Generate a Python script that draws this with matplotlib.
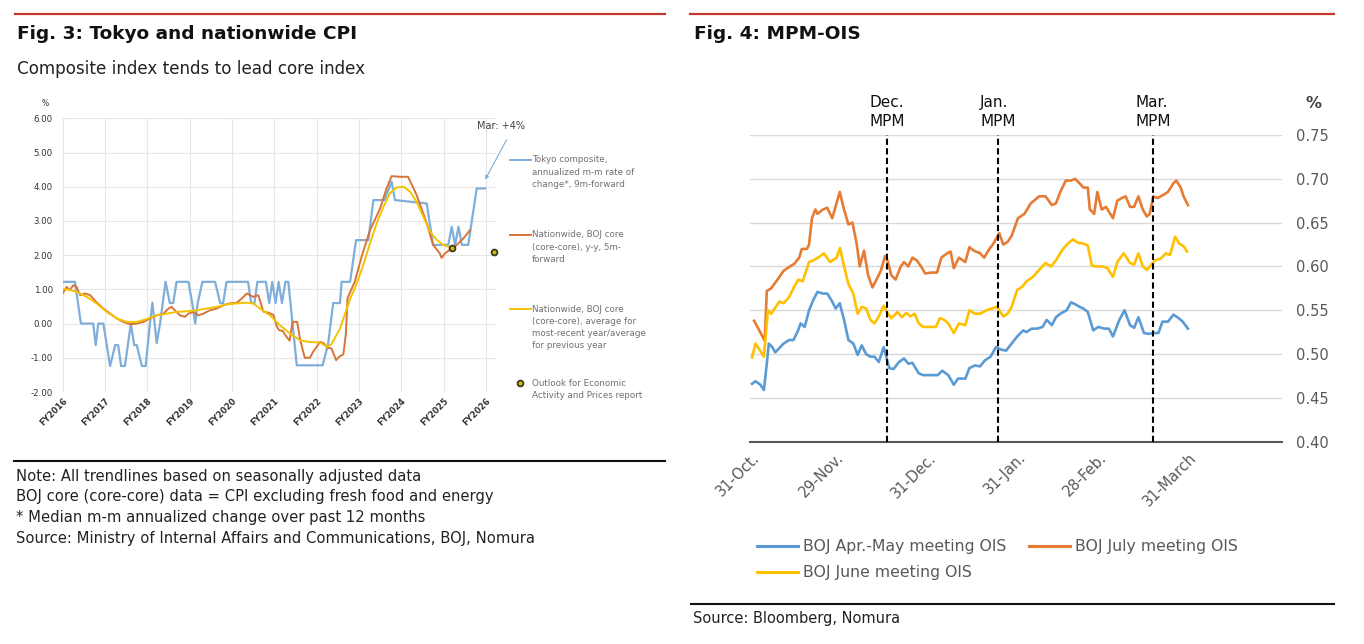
import numpy as np
import matplotlib
matplotlib.use("Agg")
import matplotlib.pyplot as plt
from matplotlib.lines import Line2D

# ---------------- Fig. 3 data (x = years since start of FY2016) ----------------
fy_labels = ["FY2016", "FY2017", "FY2018", "FY2019", "FY2020", "FY2021",
             "FY2022", "FY2023", "FY2024", "FY2025", "FY2026"]
cpi_ticks = [-2, -1, 0, 1, 2, 3, 4, 5, 6]

tokyo_composite = [
    (0, 1.22), (0.29, 1.22), (0.43, 0.0), (0.72, 0.0), (0.78, -0.63), (0.84, 0.0),
    (0.96, 0.0), (1.12, -1.24), (1.24, -0.63), (1.31, -0.63), (1.38, -1.24),
    (1.47, -1.24), (1.61, 0.0), (1.69, -0.63), (1.75, -0.63), (1.87, -1.24),
    (1.96, -1.24), (2.06, 0.0), (2.12, 0.61), (2.22, -0.57), (2.30, 0.0),
    (2.43, 1.22), (2.53, 0.6), (2.61, 0.6), (2.69, 1.22), (2.97, 1.22), (3.06, 0.6),
    (3.13, 0.0), (3.19, 0.6), (3.30, 1.22), (3.60, 1.22), (3.72, 0.6), (3.79, 0.6),
    (3.87, 1.22), (4.38, 1.22), (4.45, 0.6), (4.53, 0.6), (4.60, 1.22), (4.80, 1.22),
    (4.88, 0.6), (4.95, 1.22), (5.03, 0.6), (5.10, 1.22), (5.18, 0.6), (5.26, 1.22),
    (5.33, 1.22), (5.53, -1.22), (6.14, -1.22), (6.27, -0.6), (6.39, 0.6),
    (6.55, 0.6), (6.59, 1.22), (6.79, 1.22), (6.93, 2.44), (7.22, 2.44),
    (7.34, 3.61), (7.60, 3.61), (7.77, 4.15), (7.85, 3.61), (8.60, 3.51),
    (8.75, 2.30), (9.11, 2.30), (9.19, 2.83), (9.27, 2.30), (9.35, 2.83),
    (9.43, 2.30), (9.58, 2.30), (9.78, 3.95), (9.98, 3.95),
]

nationwide_yy = [
    (0, 0.88), (0.09, 1.07), (0.17, 0.98), (0.25, 1.12), (0.33, 1.07), (0.41, 0.83),
    (0.53, 0.88), (0.65, 0.83), (0.80, 0.62), (0.96, 0.44), (1.12, 0.29),
    (1.28, 0.15), (1.43, 0.05), (1.59, -0.02), (1.75, 0.0), (1.91, 0.05),
    (2.06, 0.15), (2.22, 0.24), (2.38, 0.29), (2.50, 0.44), (2.57, 0.49),
    (2.65, 0.39), (2.77, 0.24), (2.89, 0.20), (2.97, 0.29), (3.09, 0.34),
    (3.20, 0.24), (3.32, 0.29), (3.48, 0.39), (3.64, 0.44), (3.80, 0.54),
    (3.95, 0.59), (4.11, 0.61), (4.23, 0.73), (4.35, 0.88), (4.50, 0.78),
    (4.62, 0.83), (4.74, 0.35), (4.86, 0.32), (4.98, 0.25), (5.06, -0.09),
    (5.11, -0.19), (5.20, -0.22), (5.29, -0.39), (5.36, -0.50), (5.43, 0.05),
    (5.54, 0.05), (5.61, -0.48), (5.72, -1.0), (5.84, -1.0), (5.92, -0.82),
    (6.00, -0.68), (6.08, -0.53), (6.17, -0.58), (6.25, -0.70), (6.35, -0.73),
    (6.46, -1.07), (6.53, -0.97), (6.63, -0.90), (6.69, -0.30), (6.73, 0.75),
    (6.80, 0.95), (6.90, 1.22), (7.06, 1.95), (7.26, 2.73), (7.50, 3.37),
    (7.65, 3.95), (7.77, 4.31), (7.97, 4.29), (8.16, 4.29), (8.36, 3.76),
    (8.60, 2.93), (8.75, 2.30), (8.91, 2.05), (8.95, 1.92), (9.03, 2.05),
    (9.15, 2.16), (9.31, 2.30), (9.46, 2.48), (9.62, 2.73),
]

nationwide_avg = [
    (0, 1.02), (0.17, 0.98), (0.33, 0.93), (0.57, 0.78), (0.80, 0.59), (1.04, 0.34),
    (1.28, 0.15), (1.51, 0.05), (1.75, 0.05), (1.98, 0.13), (2.22, 0.24),
    (2.46, 0.29), (2.69, 0.34), (2.93, 0.36), (3.17, 0.39), (3.40, 0.44),
    (3.64, 0.49), (3.87, 0.56), (4.11, 0.59), (4.35, 0.61), (4.50, 0.59),
    (4.66, 0.44), (4.90, 0.24), (5.13, -0.05), (5.37, -0.29), (5.61, -0.49),
    (5.84, -0.54), (6.08, -0.55), (6.24, -0.68), (6.35, -0.60), (6.55, -0.15),
    (6.79, 0.72), (6.95, 1.18), (7.10, 1.71), (7.26, 2.35), (7.42, 2.94),
    (7.58, 3.42), (7.73, 3.81), (7.89, 3.98), (8.05, 4.00), (8.21, 3.85),
    (8.36, 3.56), (8.52, 3.12), (8.68, 2.68), (8.84, 2.44), (8.99, 2.30),
    (9.11, 2.25), (9.19, 2.22),
]

outlook_report = [(9.20, 2.20), (10.19, 2.10)]
mar_point = (9.95, 4.14)

# ---------------- Fig. 4 data (x = days after 31 Oct) ----------------
date_ticks = [0, 29, 61, 92, 120, 151]
date_labels = ["31-Oct.", "29-Nov.", "31-Dec.", "31-Jan.", "28-Feb.", "31-March"]
ois_ticks = [0.40, 0.45, 0.50, 0.55, 0.60, 0.65, 0.70, 0.75]
mpm_days = [46.7, 84.9, 138.6]
mpm_labels = ["Dec.\nMPM", "Jan.\nMPM", "Mar.\nMPM"]

apr_may_ois = [
    (0, .466), (1.2, .469), (2.9, .465), (4.1, .459), (5.1, .489), (5.8, .512),
    (7.0, .508), (8.0, .502), (9.5, .507), (10.9, .512), (12.8, .516), (14.3, .516),
    (15.8, .526), (16.8, .535), (18.2, .531), (19.7, .550), (21.2, .562), (22.6, .571),
    (24.5, .569), (26.0, .569), (27.7, .560), (28.9, .552), (30.3, .558), (31.8, .539),
    (33.3, .516), (35.0, .512), (36.5, .499), (37.9, .510), (39.4, .500), (40.9, .497),
    (42.3, .497), (43.8, .491), (45.5, .508), (47.4, .484), (48.9, .483), (50.8, .491),
    (52.5, .495), (54.0, .489), (55.4, .490), (57.6, .478), (59.1, .476), (61.3, .476),
    (64.2, .476), (65.7, .481), (67.8, .476), (69.7, .465), (71.2, .472), (73.7, .472),
    (75.1, .484), (77.0, .487), (78.8, .486), (80.5, .493), (82.4, .497), (84.3, .508),
    (86.1, .505), (87.8, .504), (89.7, .512), (91.6, .520), (93.7, .527), (94.8, .525),
    (96.6, .529), (98.5, .529), (100.4, .531), (101.8, .539), (103.6, .533),
    (105.0, .542), (106.5, .546), (108.7, .550), (110.2, .559), (111.6, .557),
    (113.1, .554), (114.5, .552), (116.0, .548), (117.9, .527), (119.6, .531),
    (121.8, .529), (123.3, .529), (124.7, .520), (126.9, .539), (128.7, .550),
    (130.6, .533), (132.0, .530), (133.5, .542), (135.4, .524), (137.1, .523),
    (138.6, .524), (140.4, .524), (141.8, .537), (143.7, .537), (145.6, .545),
    (147.4, .541), (148.8, .537), (150.6, .529),
]

june_ois = [
    (0, .496), (1.2, .512), (2.6, .505), (4.1, .497), (5.5, .550), (6.6, .546),
    (8.0, .553), (9.5, .560), (10.9, .558), (12.8, .565), (14.6, .577), (16.0, .585),
    (17.5, .583), (19.7, .605), (21.2, .607), (23.3, .611), (24.8, .615), (27.0, .605),
    (29.2, .610), (30.4, .621), (31.8, .600), (33.3, .580), (35.0, .569), (36.5, .546),
    (37.9, .554), (39.4, .552), (40.9, .539), (42.3, .535), (43.8, .543), (45.5, .555),
    (47.0, .546), (48.1, .541), (50.3, .548), (51.8, .542), (53.3, .547), (54.7, .543),
    (56.2, .546), (57.6, .535), (59.1, .531), (61.3, .531), (63.5, .531), (64.9, .541),
    (66.4, .539), (67.8, .535), (69.7, .524), (71.5, .535), (73.7, .533), (75.1, .550),
    (77.0, .546), (78.8, .546), (81.0, .550), (82.9, .552), (84.6, .554), (86.8, .543),
    (88.3, .546), (89.7, .554), (91.6, .573), (93.4, .577), (94.8, .583), (97.0, .588),
    (99.2, .596), (101.4, .604), (103.3, .600), (105.0, .607), (107.2, .619),
    (109.1, .626), (110.9, .631), (112.6, .627), (114.5, .626), (116.0, .624),
    (117.4, .601), (118.9, .600), (121.1, .600), (122.8, .598), (124.7, .588),
    (126.2, .605), (128.4, .615), (130.6, .604), (132.0, .602), (133.5, .615),
    (135.0, .600), (136.4, .596), (137.9, .602), (139.3, .607), (141.2, .609),
    (143.0, .615), (144.4, .613), (146.2, .634), (147.6, .626), (149.1, .623),
    (150.3, .617),
]

july_ois = [
    (0.7, .538), (2.2, .529), (4.4, .515), (5.1, .572), (6.6, .575), (8.8, .585),
    (10.9, .595), (13.1, .600), (14.6, .603), (16.3, .610), (17.2, .620), (19.0, .620),
    (19.7, .625), (20.7, .655), (21.9, .665), (22.6, .660), (24.5, .665), (26.0, .667),
    (27.7, .655), (30.3, .685), (31.8, .665), (33.3, .648), (34.7, .650), (36.2, .625),
    (37.2, .600), (38.7, .618), (40.1, .590), (41.6, .576), (43.0, .585), (44.5, .595),
    (46.0, .612), (47.0, .605), (48.1, .590), (49.6, .585), (51.4, .600), (52.5, .605),
    (54.0, .600), (55.4, .610), (56.9, .607), (58.4, .600), (59.8, .592), (62.0, .593),
    (63.9, .593), (65.4, .610), (67.4, .615), (68.6, .617), (69.7, .598), (71.5, .610),
    (73.7, .605), (75.1, .622), (76.6, .618), (78.8, .615), (80.2, .610), (82.0, .620),
    (83.2, .625), (85.4, .638), (86.8, .625), (88.3, .628), (89.7, .635), (91.9, .655),
    (94.1, .660), (96.3, .672), (99.2, .680), (101.4, .680), (103.6, .670),
    (105.0, .672), (106.5, .685), (108.4, .698), (110.2, .698), (111.6, .700),
    (113.1, .695), (114.5, .690), (116.0, .690), (116.7, .665), (118.2, .660),
    (119.3, .685), (120.8, .665), (122.3, .668), (124.7, .655), (126.2, .675),
    (127.7, .678), (129.1, .680), (130.6, .668), (132.0, .668), (133.5, .680),
    (135.0, .665), (136.4, .657), (137.4, .660), (138.6, .680), (140.1, .678),
    (142.3, .682), (143.7, .685), (145.6, .695), (146.6, .698), (148.1, .690),
    (149.1, .680), (150.6, .670),
]

W, H = 1364, 644


def fx(px):
    return px / W


def fy(py):
    return 1 - py / H


fig = plt.figure(figsize=(W / 100, H / 100), dpi=100)
fig.patch.set_facecolor("white")

TXT = "#222222"
GREY = "#595959"

# header / footer rules
fig.add_artist(Line2D([fx(15), fx(665)], [fy(14), fy(14)], color="#c0392b", lw=1.6))
fig.add_artist(Line2D([fx(690), fx(1334)], [fy(14), fy(14)], color="#c0392b", lw=1.6))
fig.add_artist(Line2D([fx(14), fx(665)], [fy(460.5), fy(460.5)], color="#111111", lw=1.5))
fig.add_artist(Line2D([fx(691), fx(1334)], [fy(604), fy(604)], color="#111111", lw=1.5))

fig.text(fx(17), fy(34), "Fig. 3: Tokyo and nationwide CPI", fontsize=13.3,
         fontweight="bold", color="#111111", va="center")
fig.text(fx(17), fy(69), "Composite index tends to lead core index", fontsize=12.1,
         color=TXT, va="center")
fig.text(fx(694), fy(34), "Fig. 4: MPM-OIS", fontsize=13.3, fontweight="bold",
         color="#111111", va="center")

notes = ["Note: All trendlines based on seasonally adjusted data",
         "BOJ core (core-core) data = CPI excluding fresh food and energy",
         "* Median m-m annualized change over past 12 months",
         "Source: Ministry of Internal Affairs and Communications, BOJ, Nomura"]
for i, line in enumerate(notes):
    fig.text(fx(16), fy(476 + i * 20.7), line, fontsize=10.6, color=TXT, va="center")
fig.text(fx(693), fy(619), "Source: Bloomberg, Nomura", fontsize=10.5, color=TXT,
         va="center")

# ---------------- left chart ----------------
ax1 = fig.add_axes([fx(62.7), fy(392), (497 - 62.7) / W, (392 - 118.3) / H])
ax1.set_xlim(0, 10.26)
ax1.set_ylim(-2, 6)
ax1.set_xticks(range(len(fy_labels)))
ax1.set_xticklabels(fy_labels, rotation=45, ha="right", va="top",
                    rotation_mode="anchor", fontsize=6, fontweight="bold", color="#333333")
ax1.set_yticks(cpi_ticks)
ax1.set_yticklabels([f"{v:.2f}" for v in cpi_ticks], fontsize=6.2, color="#333333")
ax1.tick_params(length=0)
ax1.tick_params(axis="y", pad=7)
ax1.tick_params(axis="x", pad=3)
ax1.grid(True, color="#e6e6e6", lw=0.8)
ax1.set_axisbelow(True)
for s in ax1.spines.values():
    s.set_visible(False)

tx, ty = np.array(tokyo_composite).T
ox, oy = np.array(nationwide_yy).T
yx, yy = np.array(nationwide_avg).T
ax1.plot(tx, ty, color="#7eaed9", lw=1.6, solid_joinstyle="round")
ax1.plot(ox, oy, color="#d8743a", lw=1.4, solid_joinstyle="round")
ax1.plot(yx, yy, color="#f4c300", lw=1.4, solid_joinstyle="round")
mx, my = np.array(outlook_report).T
ax1.plot(mx, my, "o", ms=4.2, mfc="#d6b900", mec="#3a3a1e", mew=1.3, clip_on=False)

ax1.annotate("", xy=mar_point, xytext=(10.52, 5.45), textcoords="data",
             arrowprops=dict(arrowstyle="-|>", color="#7eaed9", lw=0.8,
                             mutation_scale=5), annotation_clip=False)
fig.text(fx(477), fy(126), "Mar: +4%", fontsize=7, color="#404040", va="center")
fig.text(fx(45), fy(104), "%", fontsize=5.5, color="#333333", ha="center", va="center")

# left legend
leg1 = [("#7eaed9", "line", 160, ["Tokyo composite,", "annualized m-m rate of",
                                   "change*, 9m-forward"]),
        ("#d8743a", "line", 235, ["Nationwide, BOJ core", "(core-core), y-y, 5m-",
                                   "forward"]),
        ("#f4c300", "line", 309, ["Nationwide, BOJ core", "(core-core), average for",
                                   "most-recent year/average", "for previous year"]),
        ("#d6b900", "marker", 383, ["Outlook for Economic",
                                     "Activity and Prices report"])]
for color, kind, y0, lines in leg1:
    if kind == "line":
        fig.add_artist(Line2D([fx(510), fx(531)], [fy(y0), fy(y0)], color=color, lw=1.4))
    else:
        fig.add_artist(Line2D([fx(519.5)], [fy(y0)], marker="o", ms=4.2, mfc=color,
                              mec="#3a3a1e", mew=1.3, lw=0))
    for i, line in enumerate(lines):
        fig.text(fx(532), fy(y0 + i * 12.2), line, fontsize=6.3, color="#707070",
                 va="center")

# ---------------- right chart ----------------
ax2 = fig.add_axes([fx(750), fy(441.7), 532 / W, 306.7 / H])
ax2.set_xlim(-0.7, 183.1)
ax2.set_ylim(0.40, 0.75)
ax2.set_yticks(ois_ticks)
ax2.set_yticklabels([f"{v:.2f}" for v in ois_ticks], fontsize=10.5, color=GREY)
ax2.yaxis.tick_right()
ax2.set_xticks(date_ticks)
ax2.set_xticklabels(date_labels, rotation=45, ha="right", va="top",
                    rotation_mode="anchor", fontsize=10.5, color=GREY)
ax2.tick_params(length=0)
ax2.tick_params(axis="y", pad=10)
ax2.tick_params(axis="x", pad=6)
ax2.grid(True, axis="y", color="#d9d9d9", lw=1)
ax2.set_axisbelow(True)
for side in ["top", "left", "right"]:
    ax2.spines[side].set_visible(False)
ax2.spines["bottom"].set_color("#595959")
ax2.spines["bottom"].set_linewidth(1.5)

for d, lab in zip(mpm_days, mpm_labels):
    ax2.plot([d, d], [0.40, 0.75], color="black", lw=1.5, dashes=(3, 1.6), zorder=4)
    ax2.text(d, 0.7765, lab, ha="center", va="center", multialignment="left",
             fontsize=11, color="#111111", linespacing=1.3, clip_on=False)

ax_, ay_ = np.array(apr_may_ois).T
jx, jy = np.array(june_ois).T
lx, ly = np.array(july_ois).T
ax2.plot(ax_, ay_, color="#5b9bd5", lw=1.9, zorder=3)
ax2.plot(lx, ly, color="#e67c34", lw=1.9, zorder=3)
ax2.plot(jx, jy, color="#ffc000", lw=1.9, zorder=3)

fig.text(fx(1314), fy(104), "%", fontsize=11.5, fontweight="bold", color="#404040",
         ha="center", va="center")

# right legend
leg2 = [("#5b9bd5", 757, 546, "BOJ Apr.-May meeting OIS"),
        ("#e67c34", 1029, 546, "BOJ July meeting OIS"),
        ("#ffc000", 757, 572, "BOJ June meeting OIS")]
for color, x0, y0, label in leg2:
    fig.add_artist(Line2D([fx(x0), fx(x0 + 41)], [fy(y0), fy(y0)], color=color, lw=2.2))
    fig.text(fx(x0 + 46), fy(y0), label, fontsize=11.3, color=GREY, va="center")

fig.savefig("out.png", dpi=100)
